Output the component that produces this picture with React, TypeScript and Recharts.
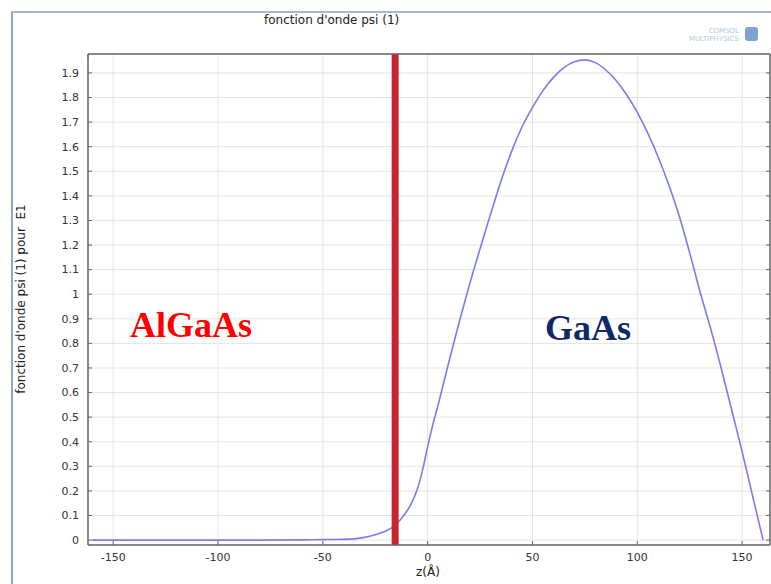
import { LineChart, Line, XAxis, YAxis, CartesianGrid, ReferenceLine } from 'recharts';

// wavefunction psi(1) for E1
const zValues = [
  -160, -140, -120, -100, -80, -60, -50, -40, -35, -30, -25, -20, -16, -12, -8, -5, -2, 0,
  2.5, 5, 7.5, 10, 15, 20, 25, 30, 35, 40, 45, 50, 55, 60, 65, 70, 75, 80, 85, 90, 95,
  100, 105, 110, 115, 120, 125, 130, 135, 140, 145, 150, 155, 160,
];
const psiValues = [
  0, 0, 0, 0, 0, 0.001, 0.002, 0.003, 0.005, 0.011, 0.022, 0.037, 0.057, 0.093, 0.145, 0.205, 0.3, 0.38,
  0.47, 0.55, 0.635, 0.72, 0.885, 1.04, 1.185, 1.325, 1.46, 1.58, 1.68, 1.76, 1.828, 1.882, 1.922, 1.945, 1.953, 1.942, 1.912, 1.868, 1.81,
  1.74, 1.655, 1.557, 1.445, 1.318, 1.168, 1.008, 0.86, 0.7, 0.53, 0.36, 0.18, 0,
];
const xTicks = [-150, -100, -50, 0, 50, 100, 150];
const yTicks = [0, 0.1, 0.2, 0.3, 0.4, 0.5, 0.6, 0.7, 0.8, 0.9, 1, 1.1, 1.2, 1.3, 1.4, 1.5, 1.6, 1.7, 1.8, 1.9];
const interfaceZ = -15.5;

const data = zValues.map((z, i) => ({ z, psi: psiValues[i] }));

const W = 771;
const H = 584;
const LEFT = 88;
const TOP = 54;
const RIGHT = 770;
const BOTTOM = 545;
const font = '"DejaVu Sans", sans-serif';
const tickColor = '#666';

const LeftTick = (props: any) => {
  const y = props.payload.coordinate;
  return (
    <g>
      <line x1={LEFT} x2={LEFT + 4} y1={y} y2={y} stroke={tickColor} />
      <text x={LEFT - 9} y={y} dy="0.35em" textAnchor="end" fontSize={11} fontFamily={font} fill="#333">
        {String(props.payload.value)}
      </text>
    </g>
  );
};

const BottomTick = (props: any) => {
  const x = props.payload.coordinate;
  return (
    <g>
      <line x1={x} x2={x} y1={BOTTOM} y2={BOTTOM - 4} stroke={tickColor} />
      <text x={x} y={BOTTOM + 12} dy="0.35em" textAnchor="middle" fontSize={11} fontFamily={font} fill="#333">
        {String(props.payload.value)}
      </text>
    </g>
  );
};

const TopTick = (props: any) => {
  const x = props.payload.coordinate;
  return <line x1={x} x2={x} y1={TOP} y2={TOP + 4} stroke={tickColor} />;
};

const RightTick = (props: any) => {
  const y = props.payload.coordinate;
  return <line x1={RIGHT} x2={RIGHT - 4} y1={y} y2={y} stroke={tickColor} />;
};

export default function App() {
  return (
    <div style={{ position: 'absolute', left: 0, top: 0, width: W, height: H, background: '#fff', overflow: 'hidden' }}>
      <div style={{ position: 'absolute', left: 11, top: 11, width: W, height: H, borderLeft: '2px solid #8ea6d6', borderTop: '2px solid #a9b8d0' }} />
      <LineChart
        width={W}
        height={H}
        data={data}
        margin={{ top: TOP - 2, right: W - RIGHT - 2, bottom: H - BOTTOM - 30, left: LEFT - 60 }}
        style={{ position: 'absolute', left: 0, top: 0 }}
      >
        <CartesianGrid stroke="#e4e4e4" />
        <XAxis
          dataKey="z"
          type="number"
          domain={[-162, 163.3]}
          ticks={xTicks}
          allowDataOverflow
          height={30}
          tick={BottomTick}
          tickLine={false}
          axisLine={{ stroke: '#666', strokeWidth: 1.5 }}
        />
        <XAxis
          xAxisId="top"
          orientation="top"
          type="number"
          domain={[-162, 163.3]}
          ticks={xTicks}
          allowDataOverflow
          height={2}
          tick={TopTick}
          tickLine={false}
          axisLine={{ stroke: '#666', strokeWidth: 1.5 }}
        />
        <YAxis
          type="number"
          domain={[-0.02, 1.977]}
          ticks={yTicks}
          allowDataOverflow
          width={60}
          tick={LeftTick}
          tickLine={false}
          axisLine={{ stroke: '#666', strokeWidth: 1.5 }}
        />
        <YAxis
          yAxisId="right"
          orientation="right"
          type="number"
          domain={[-0.02, 1.977]}
          ticks={yTicks}
          allowDataOverflow
          width={2}
          tick={RightTick}
          tickLine={false}
          axisLine={{ stroke: '#666', strokeWidth: 1.5 }}
        />
        <Line
          type="monotone"
          dataKey="psi"
          stroke="#7b7bf0"
          strokeWidth={1.6}
          dot={false}
          isAnimationActive={false}
        />
        <ReferenceLine x={interfaceZ} stroke="#c9262c" strokeWidth={7} />
      </LineChart>
      <div style={{ position: 'absolute', left: 264, top: 13, fontFamily: font, fontSize: 12, color: '#222', whiteSpace: 'nowrap' }}>
        fonction d'onde psi (1)
      </div>
      <div style={{ position: 'absolute', left: 655, top: 27, fontFamily: font, fontSize: 7, lineHeight: '8px', color: '#b9c6da', textAlign: 'right', width: 84 }}>
        <div>COMSOL</div>
        <div>MULTIPHYSICS</div>
      </div>
      <div style={{ position: 'absolute', left: 745, top: 27, width: 13, height: 14, borderRadius: 3, background: '#7ea3d2' }} />
      <div
        style={{
          position: 'absolute',
          left: 21,
          top: 299,
          transform: 'translate(-50%, -50%) rotate(-90deg)',
          fontFamily: font,
          fontSize: 12,
          color: '#222',
          whiteSpace: 'pre',
        }}
      >
        fonction d'onde psi (1) pour  E1
      </div>
      <div style={{ position: 'absolute', left: 428, top: 572, transform: 'translate(-50%, -50%)', fontFamily: font, fontSize: 12, color: '#222' }}>
        z(Å)
      </div>
      <div style={{ position: 'absolute', left: 130, top: 307, fontFamily: '"Liberation Serif", serif', fontWeight: 'bold', fontSize: 36, lineHeight: '36px', color: '#ff0000' }}>
        AlGaAs
      </div>
      <div style={{ position: 'absolute', left: 545, top: 310, fontFamily: '"Liberation Serif", serif', fontWeight: 'bold', fontSize: 36, lineHeight: '36px', color: '#0d2a66' }}>
        GaAs
      </div>
    </div>
  );
}
